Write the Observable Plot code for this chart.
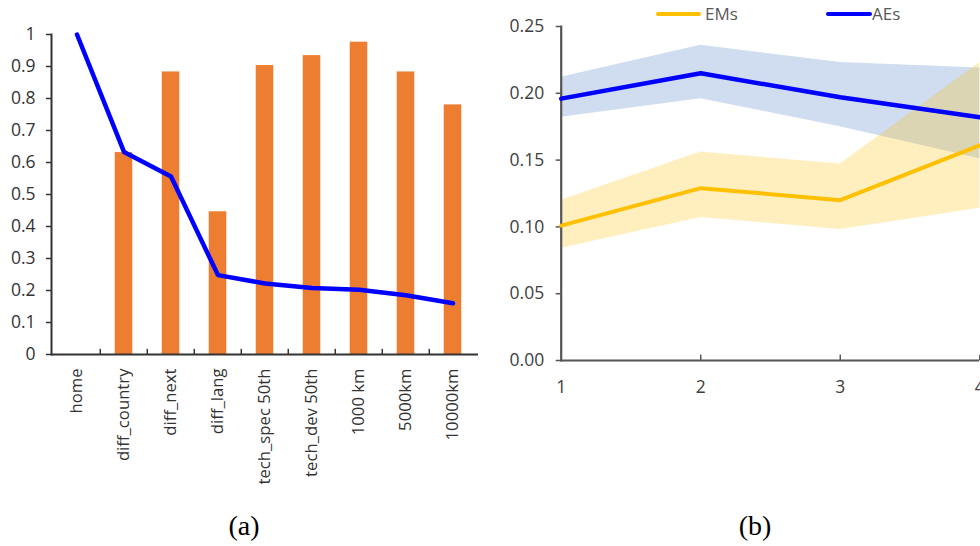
<!DOCTYPE html>
<html>
<head>
<meta charset="utf-8">
<script src="https://cdn.jsdelivr.net/npm/d3@7"></script>
<script src="https://cdn.jsdelivr.net/npm/@observablehq/plot@0.6"></script>
<style>
  html, body { margin: 0; padding: 0; background: #fff; overflow: hidden; }
  #wrap { position: relative; width: 980px; height: 546px; overflow: hidden; background: #fff; }
  #panelA, #panelB { position: absolute; top: 0; }
  #panelA { left: 0; width: 490px; }
  #panelB { left: 480px; width: 520px; }
  #panelA svg, #panelB svg { max-width: none; display: block; }
  .cap { position: absolute; top: 510px; line-height: 32px; font-family: "Liberation Serif", "DejaVu Serif", serif; font-size: 28px; color: #000; transform: translateX(-50%); white-space: nowrap; }
  .legend { position: absolute; font-family: "Open Sans", sans-serif; font-size: 17px; color: #595959; line-height: 22px; }
  .legend .sw { position: absolute; top: 12px; height: 4px; border-radius: 2px; }
</style>
</head>
<body>
<div id="wrap">
  <div id="panelA"></div>
  <div id="panelB"></div>
  <div class="legend" style="left:0;top:0;width:980px;height:30px;">
    <div class="sw" style="left:656px;width:45px;background:#FFC000;"></div>
    <div style="position:absolute;left:705px;top:3px;">EMs</div>
    <div class="sw" style="left:826px;width:46px;background:#0000FF;"></div>
    <div style="position:absolute;left:872px;top:3px;">AEs</div>
  </div>
  <div class="cap" style="left:244px;">(a)</div>
  <div class="cap" style="left:755px;">(b)</div>
</div>
<script>
// Panel (a): share by category (bars) and the declining curve (line)
const categories = ["home", "diff_country", "diff_next", "diff_lang", "tech_spec 50th", "tech_dev 50th", "1000 km", "5000km", "10000km"];
const barValues  = [null, 0.631, 0.883, 0.446, 0.903, 0.934, 0.976, 0.883, 0.780];
const lineValues = [1.0, 0.633, 0.556, 0.248, 0.222, 0.208, 0.202, 0.185, 0.160];
const yTicksA = [0, 0.1, 0.2, 0.3, 0.4, 0.5, 0.6, 0.7, 0.8, 0.9, 1];

// Panel (b): EMs vs AEs over periods 1-4 with confidence bands
const periods = [1, 2, 3, 4];
const emMean = [0.101, 0.129, 0.120, 0.161];
const emLow  = [0.084, 0.107, 0.098, 0.114];
const emHigh = [0.120, 0.156, 0.147, 0.223];
const aeMean = [0.196, 0.215, 0.197, 0.182];
const aeLow  = [0.182, 0.196, 0.175, 0.151];
const aeHigh = [0.212, 0.236, 0.223, 0.219];
const yTicksB = [0, 0.05, 0.10, 0.15, 0.20, 0.25];

const rowsA = categories.map((c, i) => ({cat: c, bar: barValues[i], line: lineValues[i]}));

const wA = 490, mlA = 51, mrA = 12;
const stepA = (wA - mlA - mrA) / categories.length;
const barW = 18;

const chartA = Plot.plot({
  width: wA,
  height: 500,
  marginLeft: mlA,
  marginRight: mrA,
  marginTop: 34,
  marginBottom: 146,
  style: {fontFamily: "'Open Sans', sans-serif", fontSize: "17px", color: "#333", background: "transparent", overflow: "visible"},
  x: {domain: categories, padding: 0, label: null},
  y: {domain: [0, 1], label: null},
  marks: [
    Plot.barY(rowsA.filter(d => d.bar != null), {
      x: "cat", y: "bar", fill: "#ED7D31",
      insetLeft: (stepA - barW) / 2, insetRight: (stepA - barW) / 2
    }),
    Plot.axisY({ticks: yTicksA, tickFormat: d => String(d), tickSize: 5, tickPadding: 11, fontSize: 17.5, stroke: "#333", strokeWidth: 1.5, fill: "#333"}),
    Plot.axisX({tickRotate: -90, tickSize: 0, tickPadding: 14, fontSize: 16.7, fill: "#333"}),
    // category boundary ticks pointing into the plot
    Plot.ruleX(categories.slice(1), {y1: 0, y2: 0.016, dx: -stepA / 2, stroke: "#333", strokeWidth: 1.5}),
    Plot.frame({anchor: "left", stroke: "#333", strokeWidth: 2}),
    Plot.ruleY([0], {stroke: "#333", strokeWidth: 2}),
    Plot.lineY(rowsA, {x: "cat", y: "line", stroke: "#0000FF", strokeWidth: 4.5, strokeLinejoin: "round", strokeLinecap: "round"})
  ]
});
document.getElementById("panelA").appendChild(chartA);

const rowsB = periods.flatMap((p, i) => [
  {period: p, group: "EMs", mean: emMean[i], low: emLow[i], high: emHigh[i]},
  {period: p, group: "AEs", mean: aeMean[i], low: aeLow[i], high: aeHigh[i]}
]);
const ae = rowsB.filter(d => d.group === "AEs");
const em = rowsB.filter(d => d.group === "EMs");

const chartB = Plot.plot({
  width: 520,
  height: 420,
  marginLeft: 80.7,
  marginRight: 20.7,
  marginTop: 26,
  marginBottom: 60,
  style: {fontFamily: "'Open Sans', sans-serif", fontSize: "17px", color: "#404040", background: "transparent", overflow: "visible"},
  x: {domain: [1, 4], label: null},
  y: {domain: [0, 0.25], label: null},
  marks: [
    Plot.areaY(ae, {x: "period", y1: "low", y2: "high", fill: "#4472C4", fillOpacity: 0.25}),
    Plot.areaY(em, {x: "period", y1: "low", y2: "high", fill: "#FFC000", fillOpacity: 0.25}),
    Plot.axisY({ticks: yTicksB, tickFormat: d3.format(".2f"), tickSize: 5, tickPadding: 12, fontSize: 17.5, stroke: "#555", strokeWidth: 1.5, fill: "#404040"}),
    Plot.axisX({ticks: periods, tickFormat: d3.format("d"), tickSize: 0, tickPadding: 20, fontSize: 17.5, fill: "#404040"}),
    Plot.ruleX(periods.slice(1), {y1: 0, y2: 0.004, stroke: "#555", strokeWidth: 1.5}),
    Plot.frame({anchor: "left", stroke: "#555", strokeWidth: 2.2}),
    Plot.ruleY([0], {stroke: "#555", strokeWidth: 2.2}),
    Plot.lineY(em, {x: "period", y: "mean", stroke: "#FFC000", strokeWidth: 4}),
    Plot.lineY(ae, {x: "period", y: "mean", stroke: "#0000FF", strokeWidth: 4.5})
  ]
});
document.getElementById("panelB").appendChild(chartB);
</script>
</body>
</html>
